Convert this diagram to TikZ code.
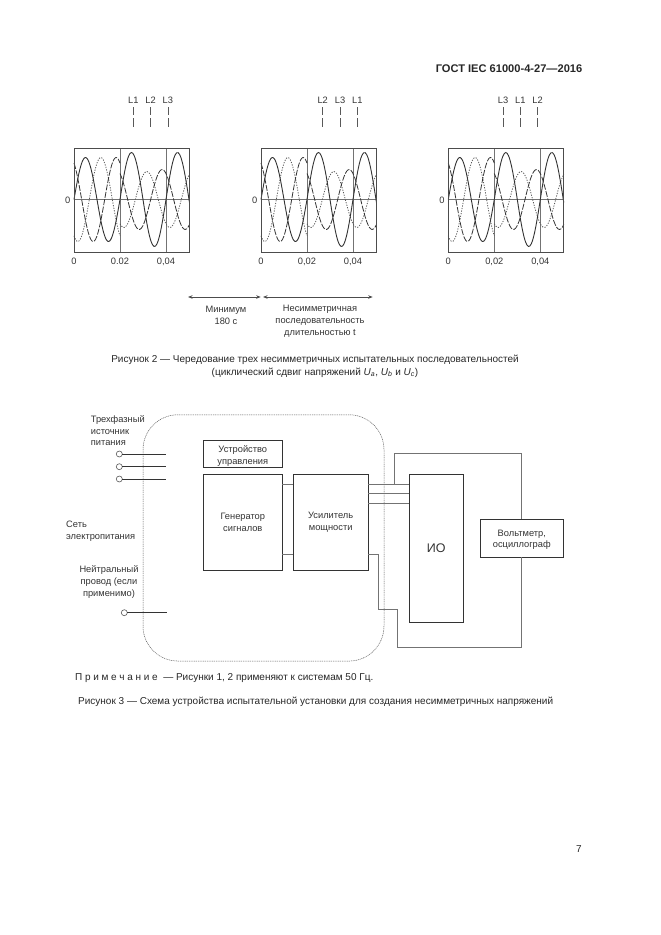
\documentclass[tikz,border=0pt]{standalone}
\usepackage{fontspec}
\setmainfont{Liberation Sans}
\usetikzlibrary{arrows.meta}
\tikzset{
  txt/.style={font=\fontsize{9.3}{11.7}\selectfont, text=black!80, inner sep=0pt, align=center},
  lefttxt/.style={txt, align=left, anchor=west},
  capt/.style={font=\fontsize{10}{12}\selectfont, text=black!85, inner sep=0pt, anchor=base},
  blk/.style={draw=black!80, line width=0.9pt, inner sep=0pt, outer sep=0pt, align=center, font=\fontsize{9.3}{11.7}\selectfont, text=black!80},
  wire/.style={draw=black!55, line width=0.8pt},
  feed/.style={draw=black!80, line width=0.9pt},
  term/.style={circle, draw=black!65, fill=white, line width=0.6pt, minimum size=6pt, inner sep=0pt, outer sep=0pt},
  span/.style={{Stealth[length=4.5pt,width=3.5pt]}-{Stealth[length=4.5pt,width=3.5pt]}, draw=black!70, line width=0.8pt},
  phasetick/.style={draw=black!65, line width=0.7pt, dash pattern=on 8pt off 3pt on 9pt},
  wave/.style={line width=0.9pt, black!80, smooth},
  waved/.style={wave, line width=0.8pt, dash pattern=on 6pt off 1.5pt},
  wavep/.style={wave, line width=0.8pt, black!65, dash pattern=on 1.2pt off 1.4pt}
}
\newcommand{\wavepiece}[5]{% style, phase, amp, from, to
  \draw[#1] plot[domain=#4:#5, samples=50] (\x, {51.5-(#3)*sin(7.82609*\x+(#2))});}
\begin{document}
\begin{tikzpicture}[x=1pt, y=-1pt]
\useasboundingbox (0,0) rectangle (661,935);
\node[capt, font=\fontsize{11.1}{12}\selectfont\bfseries, anchor=base east] (title) at (582.5,72) {ГОСТ IEC 61000-4-27—2016};
% three oscillograms
\foreach \pid/\px/\lx/\la/\lb/\lc/\tk in {1/74/133.3/L1/L2/L3/0.02, 2/261/322.7/L2/L3/L1/{0,02}, 3/448.3/503/L3/L1/L2/{0,02}} {
  \node[txt] (la\pid) at (\lx,100) {\la};
  \node[txt] (lb\pid) at (\lx+17.3,100) {\lb};
  \node[txt] (lc\pid) at (\lx+34.6,100) {\lc};
  \draw[phasetick] (la\pid.center) ++(0,7) -- ++(0,20);
  \draw[phasetick] (lb\pid.center) ++(0,7) -- ++(0,20);
  \draw[phasetick] (lc\pid.center) ++(0,7) -- ++(0,20);
  \begin{scope}[shift={(\px,148)}]
    \draw[black!55, line width=0.6pt] (0,51.5) -- (115.5,51.5);
    \draw[black!55, line width=0.7pt] (46,0) -- (46,104);
    \draw[black!55, line width=0.7pt] (92,0) -- (92,104);
    \wavepiece{wavep}{-120}{42}{0}{46}
    \wavepiece{wavep}{-120}{28}{46}{115.5}
    \wavepiece{waved}{120}{42}{0}{46}
    \wavepiece{waved}{120}{30}{46}{115.5}
    \wavepiece{wave}{0}{42}{0}{46}
    \wavepiece{wave}{0}{47}{46}{115.5}
    \draw[black!70, line width=0.8pt] (0,0) rectangle (115.5,104);
    \node[txt, anchor=east] (yz\pid) at (-3.5,52.5) {0};
    \node[txt, anchor=base] (xa\pid) at (0,116.5) {0};
    \node[txt, anchor=base] (xb\pid) at (46,116.5) {\tk};
    \node[txt, anchor=base] (xc\pid) at (92,116.5) {0,04};
  \end{scope}
}
% durations
\coordinate (s1) at (188,297);
\coordinate (s2) at (260.7,297);
\coordinate (s3) at (263,297);
\coordinate (s4) at (372.7,297);
\draw[span] (s1) -- (s2);
\draw[span] (s3) -- (s4);
\node[txt] (minlab) at (226,315) {Минимум\\180 с};
\node[txt] (seqlab) at (320,321.4) {Несимметричная\\последовательность\\длительностью t};
\node[capt] (fig2a) at (315,362.5) {Рисунок 2 — Чередование трех несимметричных испытательных последовательностей};
\node[capt] (fig2b) at (315,375) {(циклический сдвиг напряжений \textit{U}\textsubscript{\textit{a}}, \textit{U}\textsubscript{\textit{b}} и \textit{U}\textsubscript{\textit{c}})};
% test setup
\node[draw=black!65, line width=0.5pt, dash pattern=on 1pt off 0.8pt, rounded corners=35pt, minimum width=241pt, minimum height=246.3pt, inner sep=0pt] (cab) at (263.5,537.9) {};
\node[blk, minimum width=79pt, minimum height=26.6pt] (ctrl) at (242.8,454) {\rule{0pt}{11pt}Устройство\\управления};
\node[blk, minimum width=79pt, minimum height=96pt] (gen) at (242.8,522) {Генератор\\сигналов};
\node[blk, minimum width=75.3pt, minimum height=96pt] (amp) at (330.7,522) {Усилитель\\мощности};
\node[blk, minimum width=54.3pt, minimum height=148.3pt, font=\fontsize{12.5}{14}\selectfont] (dut) at (436.2,548.2) {ИО};
\node[blk, minimum width=83.7pt, minimum height=38pt] (volt) at (521.8,538) {\rule{0pt}{10pt}Вольтметр,\\осциллограф};
\coordinate (ya) at (0,484);
\coordinate (yb) at (0,493.5);
\coordinate (yc) at (0,503);
\coordinate (yd) at (0,554.7);
\coordinate (up) at (394.3,453.3);
\coordinate (lo1) at (378.7,609.7);
\coordinate (lo2) at (397,647.7);
\draw[wire] (gen.east |- ya) -- (amp.west |- ya);
\draw[wire] (gen.east |- yd) -- (amp.west |- yd);
\draw[wire] (amp.east |- ya) -- (dut.west |- ya);
\draw[wire] (amp.east |- yb) -- (dut.west |- yb);
\draw[wire] (amp.east |- yc) -- (dut.west |- yc);
\draw[wire] (up |- ya) -- (up) -| (volt.north);
\draw[wire] (amp.east |- yd) -| (lo1) -| (lo2) -| (volt.south);
% mains terminals
\node[term] (t1) at (119.3,454) {};
\node[term] (t2) at (119.3,466.7) {};
\node[term] (t3) at (119.3,479) {};
\node[term] (t4) at (124.3,612.7) {};
\coordinate (e1) at (165.7,454);
\coordinate (e2) at (165.7,466.7);
\coordinate (e3) at (165.7,479);
\coordinate (e4) at (166.7,612.7);
\draw[feed] (t1) -- (e1);
\draw[feed] (t2) -- (e2);
\draw[feed] (t3) -- (e3);
\draw[feed] (t4) -- (e4);
\node[lefttxt] (src) at (90.7,430.7) {Трехфазный\\источник\\питания};
\node[lefttxt] (mains) at (66,531) {Сеть\\электропитания};
\node[txt] (neut) at (109,582) {Нейтральный\\провод (если\\применимо)};
\node[capt, anchor=base west] (note) at (75,680.5) {П\hspace{2.7pt}р\hspace{2.7pt}и\hspace{2.7pt}м\hspace{2.7pt}е\hspace{2.7pt}ч\hspace{2.7pt}а\hspace{2.7pt}н\hspace{2.7pt}и\hspace{2.7pt}е\ \ — Рисунки 1, 2 применяют к системам 50 Гц.};
\node[capt, anchor=base west] (fig3) at (78,704.5) {Рисунок 3 — Схема устройства испытательной установки для создания несимметричных напряжений};
\node[capt, anchor=center] (page) at (579,849) {7};
\end{tikzpicture}
\end{document}
